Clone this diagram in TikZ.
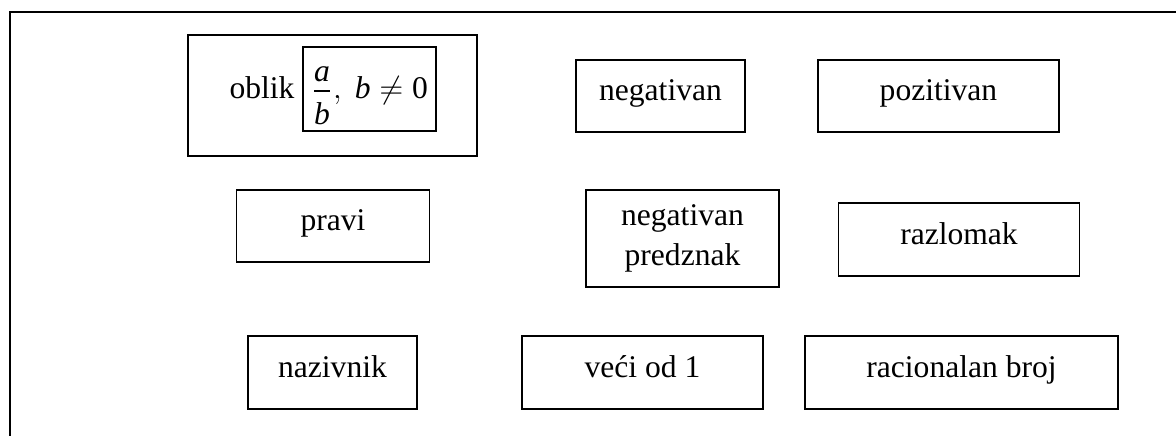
\documentclass[tikz,border=0pt]{standalone}
\usepackage{fontspec}
\usepackage{amsmath}
\setmainfont{Liberation Serif}

\begin{document}
\begin{tikzpicture}[x=0.38pt, y=-0.38pt,
    pojam/.style 2 args={draw, line width=0.6pt, inner sep=0pt, align=center,
      minimum width=#1*0.38pt, minimum height=#2*0.38pt,
      text height=8.2pt, text depth=4.6pt,
      font=\fontsize{12}{15}\selectfont}]
    \def\spust{1.5pt}
    \useasboundingbox (0, 0) rectangle (1176, 436);

    \coordinate (dolje) at (10, 436);
    \coordinate (kut) at (10, 12);
    \coordinate (desno) at (1176, 12);
    \draw[line width=0.6pt] (dolje) -- (kut) -- (desno);

    \node[pojam={289}{121}] (oblik) at (332.5, 95.5) {};
    \node[pojam={133}{84}, text height=19.76pt, text depth=12.16pt, anchor=base] (izraz) at (369.5, 99)
      {$\dfrac{\raisebox{-\spust}{\textit{a}}}{\raisebox{-\spust}{\textit{b}}},\ \textit{b}\neq\text{0}$};
    \node[anchor=base east, inner sep=0pt, font=\fontsize{12}{15}\selectfont] (rijec) at (295, 99) {oblik};

    \node[pojam={169}{72}] (negativan) at (660.5, 96) {negativan};
    \node[pojam={241}{72}] (pozitivan) at (938.5, 96) {pozitivan};
    \node[pojam={193}{72}] (pravi) at (333, 226) {pravi};
    \node[pojam={193}{97}, text height={}, text depth={}] (predznak) at (682.5, 238.5) {negativan\\predznak};
    \node[pojam={241}{73}] (razlomak) at (959, 239.5) {razlomak};
    \node[pojam={169}{73}] (nazivnik) at (332.5, 372.5) {nazivnik};
    \node[pojam={241}{73}] (veci) at (642.5, 372.5) {veći od 1};
    \node[pojam={313}{73}] (racionalan) at (961.5, 372.5) {racionalan broj};
  \end{tikzpicture}
\end{document}
